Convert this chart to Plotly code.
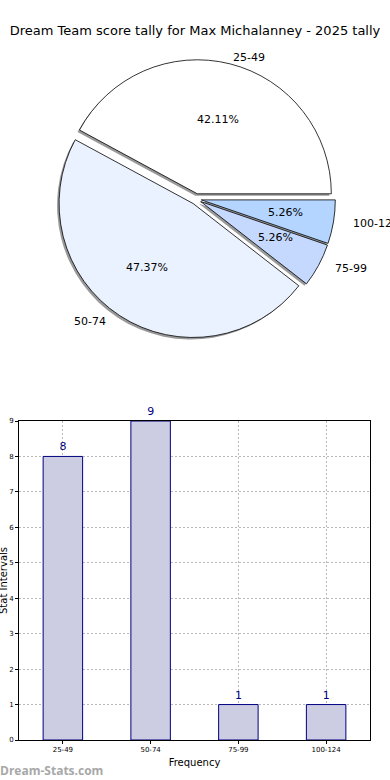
import math
import plotly.graph_objects as go

title = "Dream Team score tally for Max Michalanney - 2025 tally"
categories = ["25-49", "50-74", "75-99", "100-124"]
counts = [8, 9, 1, 1]
pie_colors = ["#ffffff", "#ebf2ff", "#c5d9ff", "#b3d5ff"]
pull = 0.04

W, H = 390, 780
cx_px, cy_px = 196, 199      # pie centre (pixels)
R = 134                      # pie radius (pixels)
RX_T, RY_T = 141, 128        # text placement radii (matplotlib's oval axes)
half = R * (1 + pull)

total = sum(counts)
# plotly (counterclockwise) places the end of the first slice at `rotation`;
# make the first slice start at 3 o'clock like matplotlib
rot = 90 - 360 * counts[0] / total

dom_x = [(cx_px - half) / W, (cx_px + half) / W]
dom_y = [1 - (cy_px + half) / H, 1 - (cy_px - half) / H]
sh = 2  # shadow offset px
dom_xs = [dom_x[0] - sh / W, dom_x[1] - sh / W]
dom_ys = [dom_y[0] - sh / H, dom_y[1] - sh / H]

fig = go.Figure()

# shadow
fig.add_trace(go.Pie(
    labels=categories, values=counts, sort=False, direction="counterclockwise",
    rotation=rot, pull=[pull] * 4, textinfo="none", hoverinfo="skip",
    marker=dict(colors=["rgba(0,0,0,0.4)"] * 4, line=dict(width=0)),
    domain=dict(x=dom_xs, y=dom_ys), showlegend=False,
))
fig.add_trace(go.Pie(
    labels=categories, values=counts, sort=False, direction="counterclockwise",
    rotation=rot, pull=[pull] * 4, textinfo="none",
    marker=dict(colors=pie_colors, line=dict(color="black", width=0.8)),
    domain=dict(x=dom_x, y=dom_y), showlegend=False,
))

# pie text (matplotlib style: pct at 0.6 r, labels at 1.1 r)
cum = 0
ann = []
for lab, v in zip(categories, counts):
    th = math.radians(360 * (cum + v / 2) / total)
    cum += v
    c, s = math.cos(th), math.sin(th)
    ox, oy = pull * RX_T * c, pull * RY_T * s
    ann.append(dict(x=cx_px / W, y=1 - cy_px / H, xref="paper", yref="paper",
                    xanchor="center", yanchor="middle",
                    xshift=ox + 0.6 * RX_T * c, yshift=oy + 0.6 * RY_T * s,
                    text=f"{100 * v / total:.2f}%", showarrow=False,
                    font=dict(size=11, color="black")))
    ann.append(dict(x=cx_px / W, y=1 - cy_px / H, xref="paper", yref="paper",
                    xshift=ox + 1.1 * RX_T * c + (-4 if c > 0 else 0),
                    yshift=oy + 1.1 * RY_T * s,
                    xanchor="left" if c > 0 else "right", yanchor="middle",
                    text=lab, showarrow=False, font=dict(size=11, color="black")))

fig.add_trace(go.Bar(
    x=categories, y=counts, width=0.45, text=[str(v) for v in counts],
    textposition="outside", cliponaxis=False,
    textfont=dict(size=11, color="#000080"),
    marker=dict(color="#ccccE3", line=dict(color="#000080", width=1)),
    xaxis="x", yaxis="y", showlegend=False,
))

ann.append(dict(x=0, y=1 - 581 / H, xref="paper", yref="paper", xshift=3,
                xanchor="center", yanchor="middle",
                text="Stat Intervals", textangle=-90, showarrow=False,
                font=dict(size=10, color="black")))
ann.append(dict(x=0, y=1 - 770 / H, xref="paper", yref="paper", xanchor="left",
                yanchor="middle", xshift=-2, text="<b>Dream-Stats.com</b>",
                showarrow=False,
                font=dict(family="Open Sans", size=12, color="#a8a8a8")))

fig.update_layout(
    width=W, height=H, margin=dict(l=0, r=0, t=0, b=0, autoexpand=False),
    paper_bgcolor="white", plot_bgcolor="white",
    font=dict(family="DejaVu Sans", color="black"),
    title=dict(text=title, x=0.5, xanchor="center", y=1 - 30 / H, yanchor="middle",
               font=dict(size=13)),
    xaxis=dict(domain=[19 / W, 370 / W], anchor="y", range=[-0.5, 3.5],
               automargin=False,
               showline=True, mirror=True, linecolor="black", linewidth=1,
               showgrid=True, gridcolor="#b8b8b8", griddash="2px,2px",
               ticks="outside", ticklen=3, tickcolor="black",
               tickfont=dict(size=7),
               title=dict(text="Frequency", font=dict(size=10), standoff=5)),
    yaxis=dict(domain=[1 - 740 / H, 1 - 421 / H], anchor="x", range=[0, 9], dtick=1,
               automargin=False,
               showline=True, mirror=True, linecolor="black", linewidth=1,
               showgrid=True, gridcolor="#b8b8b8", griddash="2px,2px",
               ticks="outside", ticklen=3, tickcolor="black",
               tickfont=dict(size=7), zeroline=False),
    annotations=ann,
)

fig.write_html("out.html", config={"displayModeBar": False},
               post_script="document.body.style.margin='0';")
